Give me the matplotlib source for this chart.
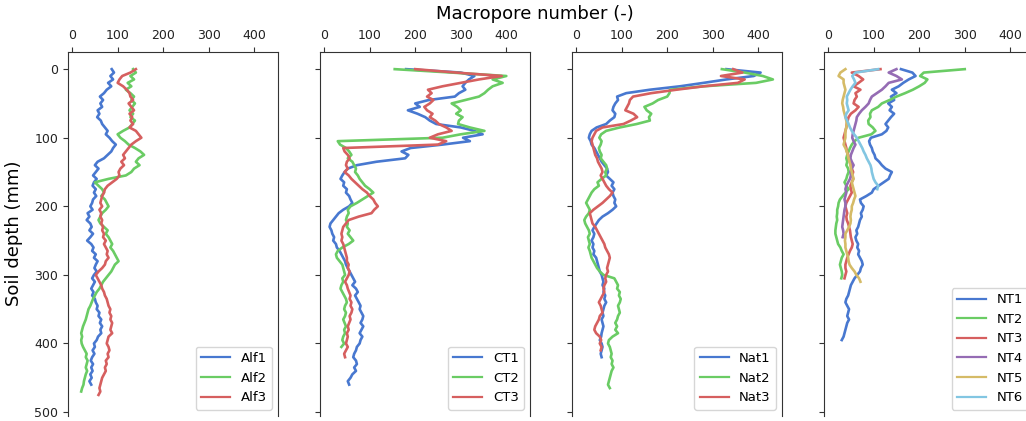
import numpy as np
import matplotlib
matplotlib.use("Agg")
import matplotlib.pyplot as plt

DEPTH_STEP = 5  # mm between successive readings

# ---- Alfalfa ----
alf1 = [87, 92, 84, 90, 79, 86, 76, 70, 61, 68, 62, 66, 56, 60, 55, 63, 66, 72, 78, 74,
        82, 88, 96, 90, 86, 78, 70, 56, 50, 58, 52, 46, 54, 48, 45, 52, 48, 53, 46, 44,
        40, 45, 34, 38, 32, 40, 43, 38, 46, 40, 33, 42, 47, 44, 52, 48, 56, 52, 49, 54,
        48, 44, 50, 46, 42, 47, 44, 50, 52, 56, 54, 60, 58, 64, 61, 66, 62, 64, 57, 54,
        48, 50, 45, 49, 44, 41, 46, 42, 45, 40, 43, 38, 42]
alf2 = [134, 140, 128, 136, 122, 130, 118, 128, 136, 130, 138, 132, 126, 134, 128, 138, 132, 126, 112, 100,
        106, 116, 124, 138, 150, 158, 146, 140, 148, 136, 130, 118, 80, 50, 58, 66, 70, 64, 72, 76,
        80, 74, 66, 62, 58, 62, 70, 78, 74, 80, 84, 88, 84, 90, 94, 98, 102, 94, 90, 86,
        80, 74, 68, 64, 60, 54, 50, 46, 43, 40, 36, 34, 32, 30, 27, 24, 22, 20, 22, 20,
        21, 24, 28, 32, 30, 34, 32, 30, 33, 30, 28, 26, 25, 22, 20]
alf3 = [140, 128, 110, 104, 100, 112, 120, 126, 128, 134, 124, 130, 136, 126, 132, 128, 134, 126, 140, 146,
        152, 140, 130, 124, 118, 112, 116, 108, 114, 106, 102, 104, 98, 88, 78, 72, 70, 66, 64, 62,
        66, 60, 64, 62, 66, 64, 68, 66, 70, 68, 74, 70, 74, 78, 76, 80, 74, 72, 66, 58,
        52, 56, 60, 64, 66, 70, 72, 76, 78, 80, 84, 82, 86, 84, 88, 86, 84, 88, 80, 78,
        76, 80, 82, 78, 80, 74, 76, 72, 74, 70, 66, 64, 62, 60, 62, 58]

# ---- Conventional tillage ----
ct1 = [180, 300, 330, 318, 310, 304, 310, 296, 287, 230, 200, 210, 184, 205, 222, 232, 246, 300, 330, 348,
       305, 320, 260, 190, 170, 185, 178, 115, 72, 52, 45, 40, 36, 44, 42, 50, 48, 55, 58, 62,
       55, 42, 32, 26, 20, 14, 12, 16, 18, 22, 20, 26, 28, 34, 38, 42, 46, 48, 52, 56,
       60, 64, 68, 62, 70, 74, 68, 72, 76, 80, 78, 82, 86, 84, 80, 86, 82, 78, 84, 80,
       78, 72, 70, 66, 64, 70, 72, 66, 70, 62, 58, 52, 55]
ct2 = [155, 280, 400, 370, 392, 370, 360, 352, 340, 310, 280, 292, 300, 290, 304, 296, 294, 320, 352, 300,
       260, 30, 35, 48, 55, 60, 52, 62, 66, 70, 68, 74, 78, 84, 90, 100, 108, 96, 84, 72,
       58, 52, 54, 50, 48, 52, 50, 56, 52, 58, 64, 54, 40, 30, 26, 28, 34, 40, 42, 44,
       46, 40, 42, 38, 36, 40, 44, 48, 50, 46, 44, 48, 46, 42, 45, 48, 44, 46, 42, 40,
       44, 38]
ct3 = [200, 290, 390, 340, 300, 260, 228, 236, 226, 240, 232, 220, 226, 238, 232, 244, 252, 268, 280, 250,
       232, 268, 250, 42, 45, 52, 56, 50, 48, 52, 45, 54, 60, 68, 76, 84, 94, 100, 108, 112,
       118, 110, 104, 76, 54, 48, 42, 40, 38, 40, 38, 42, 44, 46, 48, 50, 50, 54, 52, 56,
       54, 50, 46, 50, 52, 55, 58, 56, 60, 58, 62, 60, 56, 58, 55, 52, 54, 50, 52, 50,
       48, 52, 48, 44, 46]

# ---- Native ----
nat1 = [330, 405, 390, 330, 280, 228, 162, 110, 90, 92, 86, 82, 80, 86, 84, 74, 66, 45, 34, 30,
        28, 32, 34, 40, 44, 48, 52, 56, 62, 68, 70, 66, 74, 82, 78, 84, 80, 82, 86, 84,
        88, 80, 70, 58, 50, 45, 40, 36, 40, 38, 34, 38, 36, 40, 38, 44, 46, 48, 50, 52,
        56, 58, 60, 58, 62, 60, 64, 62, 66, 62, 60, 58, 60, 56, 58, 60, 58, 56, 55, 52,
        56, 58, 56, 54, 56]
nat2 = [320, 370, 410, 432, 395, 280, 206, 205, 200, 180, 168, 150, 155, 165, 160, 162, 133, 96, 66, 55,
        51, 56, 54, 50, 52, 56, 54, 60, 66, 68, 64, 66, 56, 47, 50, 40, 34, 30, 26, 22,
        26, 30, 28, 22, 18, 20, 24, 28, 30, 26, 28, 30, 27, 30, 32, 34, 38, 42, 46, 52,
        60, 84, 88, 92, 90, 96, 94, 98, 96, 92, 94, 96, 92, 90, 86, 90, 86, 92, 80, 72,
        70, 74, 76, 78, 76, 80, 78, 82, 78, 76, 74, 72, 70, 74]
nat3 = [345, 365, 318, 370, 355, 280, 220, 165, 125, 118, 116, 112, 108, 126, 134, 120, 104, 58, 44, 40,
        36, 34, 36, 38, 40, 42, 46, 48, 52, 56, 58, 54, 58, 62, 66, 72, 80, 74, 66, 58,
        48, 38, 30, 32, 34, 36, 42, 46, 50, 54, 58, 62, 64, 68, 72, 74, 72, 70, 68, 70,
        66, 64, 66, 62, 60, 62, 58, 54, 50, 54, 56, 58, 52, 50, 46, 42, 40, 44, 52, 55,
        52, 56, 54]

# ---- No tillage ----
nt1 = [160, 185, 192, 177, 165, 155, 140, 150, 138, 145, 132, 140, 135, 145, 138, 132, 126, 132, 128, 118,
       94, 90, 92, 96, 98, 102, 104, 112, 118, 126, 140, 136, 133, 122, 111, 100, 96, 84, 70, 72,
       78, 76, 72, 74, 70, 68, 66, 62, 64, 60, 62, 66, 64, 68, 66, 70, 74, 76, 72, 70,
       64, 58, 54, 50, 48, 46, 44, 40, 38, 42, 46, 44, 42, 46, 42, 40, 38, 36, 34, 30]
nt2 = [300, 210, 202, 218, 212, 200, 186, 169, 150, 135, 118, 110, 96, 92, 93, 88, 89, 98, 104, 95,
       67, 58, 52, 48, 45, 42, 40, 42, 40, 44, 45, 42, 40, 36, 40, 45, 38, 32, 26, 23,
       22, 20, 20, 19, 20, 18, 17, 16, 16, 18, 20, 22, 27, 30, 34, 30, 28, 26, 28, 30,
       31, 29]
nt3 = [115, 52, 67, 77, 67, 56, 71, 60, 63, 58, 56, 67, 60, 50, 45, 43, 41, 40, 38, 36,
       34, 36, 38, 40, 41, 44, 45, 48, 50, 52, 55, 53, 55, 52, 49, 50, 52, 48, 44, 40,
       38, 40, 42, 40, 41, 44, 46, 48, 49, 50, 52, 54, 52, 48, 45, 42, 40, 38, 38, 40,
       38, 36]
nt4 = [150, 133, 150, 162, 133, 126, 118, 107, 96, 92, 89, 82, 74, 68, 63, 62, 60, 58, 56, 54,
       53, 56, 60, 56, 53, 50, 49, 52, 56, 52, 49, 50, 48, 44, 40, 38, 40, 38, 36, 38,
       38, 36, 35, 34, 33, 32, 31, 33, 34, 32]
nt5 = [38, 27, 23, 34, 34, 36, 38, 36, 34, 32, 31, 33, 34, 36, 38, 40, 41, 40, 38, 38,
       38, 36, 34, 38, 41, 43, 45, 47, 49, 50, 52, 54, 56, 52, 54, 56, 58, 60, 57, 55,
       52, 52, 50, 49, 50, 49, 46, 42, 38, 38, 37, 38, 38, 40, 42, 44, 45, 47, 52, 58,
       62, 68, 71]
nt6 = [110, 60, 53, 57, 60, 54, 49, 45, 41, 42, 41, 43, 45, 40, 38, 42, 45, 48, 52, 57,
       63, 67, 71, 75, 78, 82, 85, 89, 93, 95, 96, 98, 100, 104, 110, 108]

panels = [
    (["Alf1", "Alf2", "Alf3"], [alf1, alf2, alf3]),
    (["CT1", "CT2", "CT3"], [ct1, ct2, ct3]),
    (["Nat1", "Nat2", "Nat3"], [nat1, nat2, nat3]),
    (["NT1", "NT2", "NT3", "NT4", "NT5", "NT6"], [nt1, nt2, nt3, nt4, nt5, nt6]),
]
colors = ["#4878d0", "#6acc64", "#d65f5f", "#956cb4", "#d5bb67", "#82c6e2"]

W, H = 1026, 421
fig = plt.figure(figsize=(W / 100, H / 100), dpi=100)

lefts = [68, 320, 572, 824]
ax_w = 210
top_px, bot_px = 52, 415.5

for i, (labels, series) in enumerate(panels):
    ax = fig.add_axes([lefts[i] / W, 1 - bot_px / H, ax_w / W, (bot_px - top_px) / H])
    for j, (lab, vals) in enumerate(zip(labels, series)):
        depth = np.arange(len(vals)) * DEPTH_STEP
        ax.plot(vals, depth, color=colors[j], lw=1.9, label=lab)
    ax.set_xlim(-9, 452)
    ax.set_ylim(505, -25)
    ax.xaxis.tick_top()
    ax.set_xticks([0, 100, 200, 300, 400])
    ax.set_yticks([0, 100, 200, 300, 400, 500])
    ax.tick_params(labelsize=9, length=3.5, colors="#333333", labelcolor="#222222")
    for s in ["left", "right", "top"]:
        ax.spines[s].set_color("#333333")
    ax.spines["bottom"].set_visible(False)
    if i == 0:
        ax.set_ylabel("Soil depth (mm)", fontsize=13, labelpad=8)
    else:
        ax.set_yticklabels([])
    leg = ax.legend(loc="lower right", fontsize=9.5, handlelength=2.2,
                    borderaxespad=0.45)
    for ln in leg.get_lines():
        ln.set_linewidth(1.6)

fig.text(535 / W, 1 - 14 / H, "Macropore number (-)", ha="center", va="center",
         fontsize=13)

fig.savefig("out.png", dpi=100)
